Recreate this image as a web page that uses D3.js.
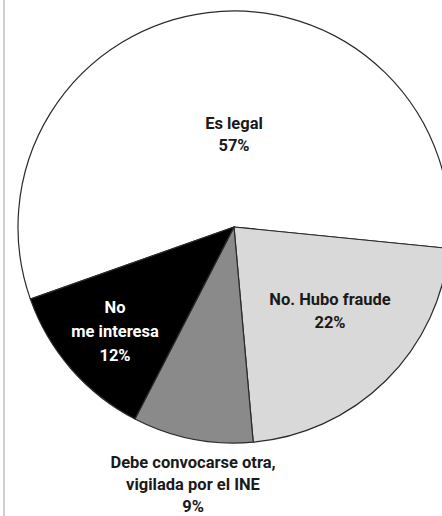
<!DOCTYPE html>
<meta charset="utf-8">
<style>
	body { margin: 0; background: #fff; }
	text {
		font-family: Roboto, "Noto Sans", sans-serif;
		font-weight: 700;
		font-size: 16.5px;
		text-anchor: middle;
	}
</style>
<body>
<div id="chart"></div>
<script src="https://d3js.org/d3.v7.min.js"></script>
<script>
	// survey answers
	var categories = ["Es legal", "No. Hubo fraude", "Debe convocarse otra, vigilada por el INE", "No me interesa"];
	var values = [57, 22, 9, 12];
	var labels = [
		["Es legal", "57%"],
		["No. Hubo fraude", "22%"],
		["Debe convocarse otra,", "vigilada por el INE", "9%"],
		["No", "me interesa", "12%"]
	];
	var fills = ["#ffffff", "#d9d9d9", "#8a8a8a", "#000000"];
	var textFills = ["#1a1a1a", "#1a1a1a", "#1a1a1a", "#ffffff"];

	var width = 442, height = 516;
	var cx = 234, cy = 227, radius = 216;

	var svg = d3.select("#chart").append("svg")
			.attr("width", width)
			.attr("height", height);

	// thin frame line on the left side
	svg.append("line")
			.attr("x1", 4).attr("x2", 4)
			.attr("y1", 0).attr("y2", height)
			.attr("stroke", "#cfcfcf")
			.attr("stroke-width", 2);

	var start = -109.5 * Math.PI / 180;
	var pie = d3.pie()
			.sort(null)
			.startAngle(start)
			.endAngle(start + 2 * Math.PI);

	var arc = d3.arc().innerRadius(0).outerRadius(radius);

	var g = svg.append("g")
			.attr("transform", "translate(" + cx + "," + cy + ")");

	var arcs = pie(values);

	g.selectAll("path")
			.data(arcs)
			.enter().append("path")
			.attr("d", arc)
			.attr("fill", function (d, i) { return fills[i]; })
			.attr("stroke", "#2a2a2a")
			.attr("stroke-width", 1.2)
			.attr("stroke-linejoin", "round");

	// label centre (relative to pie centre) and line spacing
	var labelPos = [
		{x: 0, y: -93, dy: 22},
		{x: 96, y: 84, dy: 23},
		{x: -41, y: 257, dy: 22},
		{x: -119, y: 104, dy: 24}
	];

	arcs.forEach(function (d, i) {
		var p = labelPos[i];
		var lines = labels[i];
		var t = g.append("text")
				.attr("fill", textFills[i])
				.attr("transform", "translate(" + p.x + "," + p.y + ")");
		lines.forEach(function (line, j) {
			t.append("tspan")
					.attr("x", 0)
					.attr("y", (j - (lines.length - 1) / 2) * p.dy)
					.attr("dy", "0.35em")
					.text(line);
		});
	});
</script>
</body>
